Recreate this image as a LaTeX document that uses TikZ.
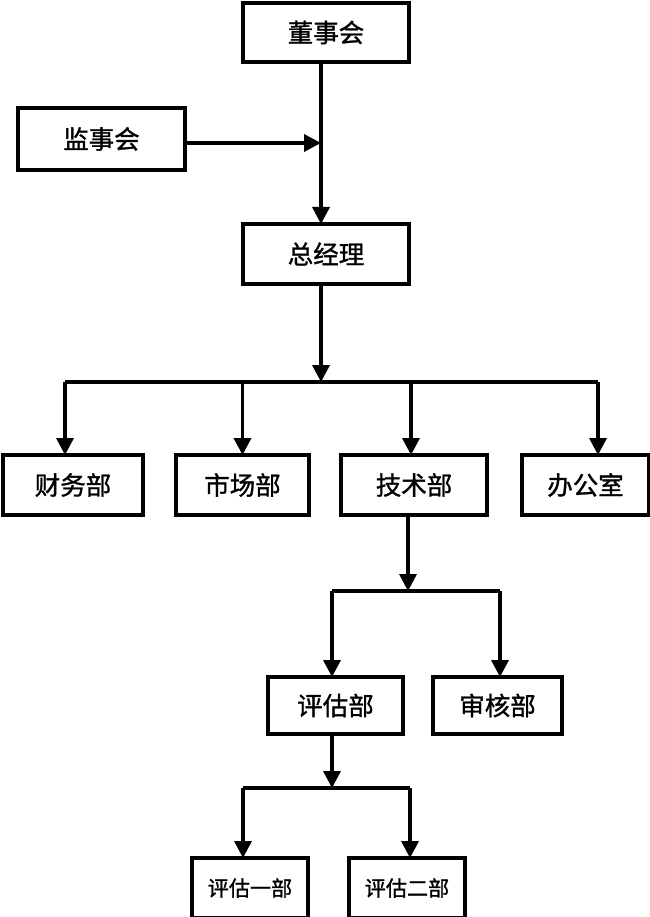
\documentclass[tikz,border=0pt]{standalone}
\usepackage{fontspec}
\newfontfamily\cjk[FakeBold=1.2]{Noto Sans CJK SC}
\usepackage{tikz}
\usetikzlibrary{positioning,arrows.meta}

\begin{document}
\begin{tikzpicture}[
        box/.style = {
            draw,
            line width=2.2pt,
            minimum height=1.2cm,
            inner sep=0pt,
            outer sep=0pt,
            font=\cjk\fontsize{14.5pt}{16pt}\selectfont
        },
        smallbox/.style = {
            box,
            minimum width=2.32cm,
            font=\cjk\fontsize{12pt}{14pt}\selectfont
        },
        arr/.style = {
            line width=2pt,
            -{Triangle[length=0.34cm,width=0.34cm]}
        },
        bus/.style = {
            line width=2pt
        }
    ]
        \useasboundingbox (0,0) rectangle (13,-18.34);
        % top
        \node[box, minimum width=3.32cm, minimum height=1.18cm] (dongshi) at (6.52,-0.65) {董事会};
        \node[box, minimum width=3.34cm, minimum height=1.24cm] (jianshi) at (2.03,-2.78) {监事会};
        \node[box, minimum width=3.32cm, below=3.24cm of dongshi] (zongjingli) {总经理};
        % departments
        \node[box, minimum width=2.80cm] (caiwu) at (1.46,-9.7) {财务部};
        \node[box, minimum width=2.66cm, right=0.66cm of caiwu] (shichang) {市场部};
        \node[box, minimum width=2.92cm, right=0.64cm of shichang] (jishu) {技术部};
        \node[box, minimum width=2.54cm, right=0.70cm of jishu] (bangong) {办公室};
        % technical
        \node[box, minimum width=2.70cm, minimum height=1.14cm, below=3.24cm of jishu, xshift=-1.57cm] (pinggu) {评估部};
        \node[box, minimum width=2.58cm, minimum height=1.14cm, right=0.60cm of pinggu] (shenhe) {审核部};
        \node[smallbox, below=2.48cm of pinggu, xshift=-1.71cm] (pinggua) {评估一部};
        \node[smallbox, right=0.82cm of pinggua] (pinggub) {评估二部};

        \coordinate (joint) at ([xshift=-0.1cm]dongshi.south |- 0,-2.86);
        \coordinate (bus1) at (0,-7.64);
        \coordinate (bus2) at (0,-11.82);
        \coordinate (bus3) at (0,-15.76);

        \draw[arr] ([xshift=-0.1cm]dongshi.south) -- ([xshift=-0.1cm]zongjingli.north);
        \draw[arr] (jianshi.east |- joint) -- (joint);

        \draw[arr] ([xshift=-0.1cm]zongjingli.south) -- ([xshift=-0.1cm]zongjingli.south |- bus1);
        \draw[bus] ([xshift=-0.16cm]caiwu.north |- bus1) -- ([xshift=0.25cm]bangong.north |- bus1);
        \draw[arr] ([xshift=-0.16cm]caiwu.north |- bus1) -- ([xshift=-0.16cm]caiwu.north);
        \draw[arr] (shichang.north |- bus1) -- (shichang.north);
        \draw[arr] ([xshift=-0.06cm]jishu.north |- bus1) -- ([xshift=-0.06cm]jishu.north);
        \draw[arr] ([xshift=0.25cm]bangong.north |- bus1) -- ([xshift=0.25cm]bangong.north);

        \draw[arr] ([xshift=-0.12cm]jishu.south) -- ([xshift=-0.12cm]jishu.south |- bus2);
        \draw[bus] ([xshift=-0.07cm]pinggu.north |- bus2) -- ([xshift=0.05cm]shenhe.north |- bus2);
        \draw[arr] ([xshift=-0.07cm]pinggu.north |- bus2) -- ([xshift=-0.07cm]pinggu.north);
        \draw[arr] ([xshift=0.05cm]shenhe.north |- bus2) -- ([xshift=0.05cm]shenhe.north);

        \draw[arr] ([xshift=-0.07cm]pinggu.south) -- ([xshift=-0.07cm]pinggu.south |- bus3);
        \draw[bus] ([xshift=-0.14cm]pinggua.north |- bus3) -- ([xshift=0.06cm]pinggub.north |- bus3);
        \draw[arr] ([xshift=-0.14cm]pinggua.north |- bus3) -- ([xshift=-0.14cm]pinggua.north);
        \draw[arr] ([xshift=0.06cm]pinggub.north |- bus3) -- ([xshift=0.06cm]pinggub.north);
    \end{tikzpicture}
\end{document}
